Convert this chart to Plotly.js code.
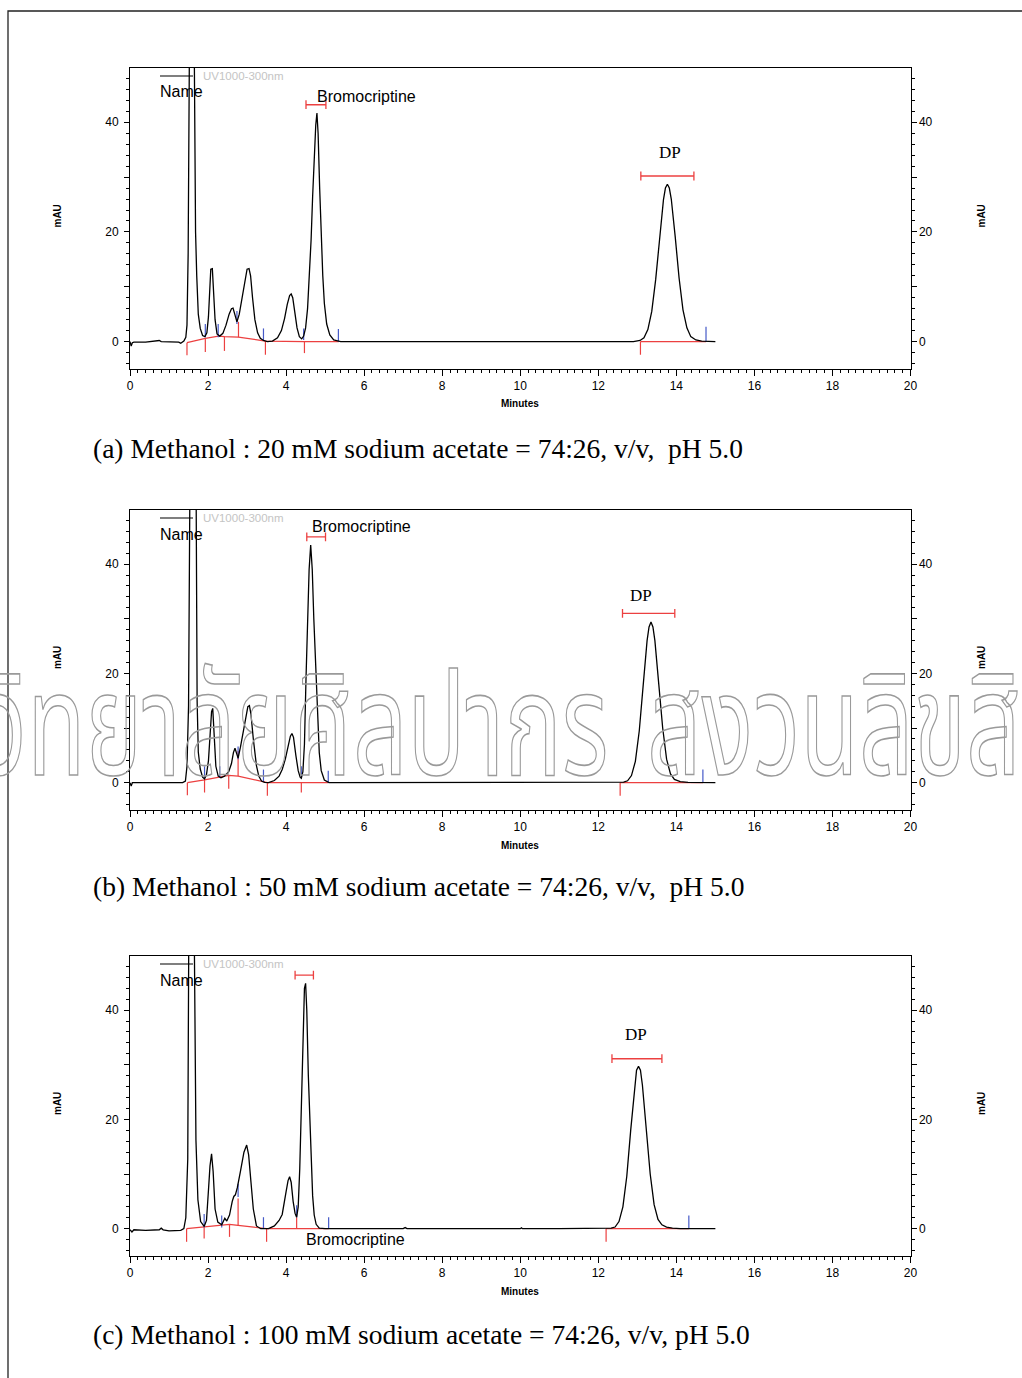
<!DOCTYPE html>
<html><head><meta charset="utf-8">
<script src="https://cdn.plot.ly/plotly-3.0.1.min.js"></script>
<style>html,body{margin:0;padding:0;background:#fff;} #chart{width:1022px;height:1378px;}</style>
</head><body><div id="chart"></div>
<script>
// ---------- Panel (a): 20 mM sodium acetate ----------
const timeA = [0, 0.03, 0.06, 0.1, 0.4, 0.7, 0.75, 0.8, 1.0, 1.25, 1.3, 1.38, 1.43, 1.46, 1.49, 1.52, 1.58, 1.64, 1.68, 1.71, 1.75, 1.8, 1.86, 1.92, 1.97, 2.01, 2.04, 2.07, 2.11, 2.14, 2.18, 2.23, 2.3, 2.38, 2.46, 2.54, 2.6, 2.64, 2.69, 2.74, 2.8, 2.87, 2.94, 3.0, 3.05, 3.09, 3.14, 3.2, 3.27, 3.34, 3.42, 3.52, 3.65, 3.78, 3.88, 3.96, 4.03, 4.09, 4.13, 4.17, 4.22, 4.28, 4.34, 4.4, 4.45, 4.5, 4.55, 4.6, 4.64, 4.68, 4.72, 4.76, 4.79, 4.82, 4.86, 4.9, 4.94, 4.98, 5.04, 5.12, 5.22, 5.4, 6.0, 7.0, 8.0, 9.0, 10.0, 11.0, 12.0, 12.9, 13.07, 13.17, 13.27, 13.37, 13.47, 13.57, 13.67, 13.72, 13.77, 13.82, 13.87, 13.97, 14.07, 14.17, 14.27, 14.37, 14.5, 14.65, 14.8, 15.0];
const absA = [0, -0.8, -0.2, -0.1, -0.1, 0.1, 0.2, 0, -0.1, -0.1, -0.3, 0.1, 0.8, 3, 16, 60, 120, 60, 20, 12, 5, 2.4, 1.1, 0.9, 1.6, 4.5, 8.7, 13.2, 13.3, 10, 4, 1.4, 1.0, 1.5, 3.0, 5.0, 6.0, 6.1, 4.8, 3.6, 5.0, 8.0, 11.3, 13.2, 13.3, 12, 8, 4, 1.6, 0.6, 0.2, 0, 0.1, 0.7, 2.0, 4.2, 6.8, 8.4, 8.7, 8.0, 5.5, 2.5, 0.9, 0.5, 1.0, 2.5, 6.0, 12.0, 18.5, 26.5, 34.0, 39.5, 41.7, 38.0, 28.0, 19.5, 12.0, 7.0, 3.2, 1.2, 0.3, 0, 0, 0, 0, 0, 0, 0, 0, 0, 0.2, 0.7, 2.2, 5.5, 11.3, 19.0, 25.9, 28.0, 28.7, 28.0, 26.0, 19.2, 11.6, 5.8, 2.5, 0.9, 0.3, 0.1, 0, 0];
const baseTimeA = [1.46, 1.93, 2.27, 2.42, 2.78, 3.47, 4.47, 5.35, null, 13.08, 14.76];
const baseAbsA = [-0.2, 0.6, 1.0, 0.9, 0.8, 0.1, 0.0, 0.0, null, 0, 0];
const redTickTimeA = [1.46, 1.93, 2.42, 2.78, 3.47, 4.47, 13.08];
const redTickLoA = [-2.5, -1.9, -1.7, 0.8, -2.4, -2.1, -2.4];
const redTickHiA = [-0.2, 0.6, 0.9, 3.6, 0.1, 0.0, 0.0];
const blueTickTimeA = [1.93, 2.26, 2.74, 3.42, 4.45, 5.34, 14.76];
const blueTickLoA = [0.8, 0.8, 3.2, 0.3, 0.3, 0, 0];
const blueTickHiA = [3.2, 3.2, 5.6, 2.4, 2.4, 2.3, 2.7];
const bracketStartA = [4.51, 13.09];
const bracketEndA = [5.02, 14.45];
const bracketAbsA = [43.2, 30.2];

// ---------- Panel (b): 50 mM sodium acetate ----------
const timeB = [0, 0.03, 0.06, 0.4, 0.8, 1.2, 1.35, 1.42, 1.46, 1.5, 1.54, 1.62, 1.69, 1.72, 1.75, 1.8, 1.86, 1.91, 1.96, 2.01, 2.05, 2.09, 2.12, 2.15, 2.2, 2.26, 2.33, 2.42, 2.53, 2.6, 2.65, 2.69, 2.73, 2.77, 2.83, 2.9, 2.97, 3.02, 3.06, 3.1, 3.16, 3.24, 3.3, 3.37, 3.45, 3.55, 3.7, 3.82, 3.9, 3.98, 4.06, 4.11, 4.15, 4.19, 4.25, 4.31, 4.36, 4.39, 4.43, 4.47, 4.51, 4.55, 4.59, 4.63, 4.67, 4.71, 4.76, 4.8, 4.85, 4.9, 4.98, 5.1, 6, 7, 8, 9, 10, 11, 12, 12.55, 12.65, 12.75, 12.85, 12.95, 13.05, 13.15, 13.25, 13.3, 13.35, 13.4, 13.45, 13.55, 13.65, 13.75, 13.85, 13.95, 14.1, 14.3, 14.6, 15.0];
const absB = [0, -0.6, 0, 0, 0, 0, 0, 0.3, 3, 14, 60, 120, 60, 15, 5.6, 2.5, 1.0, 0.7, 1.5, 4, 9, 13, 13.6, 10, 3, 1.2, 0.9, 1.2, 2.0, 3.5, 5.5, 6.3, 5.3, 4.5, 6.5, 9.5, 12.5, 13.9, 14.1, 12.5, 8, 3.1, 1.2, 0.3, 0.05, 0, 0.4, 1.2, 2.4, 4.3, 6.9, 8.5, 9.0, 8.3, 5.0, 2.2, 1.0, 0.8, 2.0, 7, 19, 30, 39, 43.5, 39, 30, 20, 12, 5.5, 2.2, 0.5, 0, 0, 0, 0, 0, 0, 0, 0, 0, 0.1, 0.35, 1.3, 3.9, 9.5, 17.8, 26.0, 28.5, 29.4, 28.5, 26.0, 18.0, 10.0, 4.3, 1.6, 0.6, 0.2, 0.05, 0, 0];
const baseTimeB = [1.47, 1.91, 2.53, 2.77, 3.52, 4.39, 5.08, null, 12.56, 14.68];
const baseAbsB = [0, 0.5, 1.35, 1.2, 0, 0, 0, null, 0, 0];
const redTickTimeB = [1.47, 1.91, 2.53, 2.77, 3.52, 4.39, 12.56];
const redTickLoB = [-2.3, -1.8, -1.1, 1.2, -2.4, -1.8, -2.4];
const redTickHiB = [0, 0.5, 1.35, 5.8, 0, 0, 0];
const blueTickTimeB = [1.91, 2.3, 2.77, 3.42, 4.39, 5.08, 14.68];
const blueTickLoB = [0.9, 0.9, 4.3, 0.2, 0.8, 0, 0];
const blueTickHiB = [3.0, 3.0, 6.6, 2.4, 3.0, 2.2, 2.4];
const bracketStartB = [4.53, 12.62];
const bracketEndB = [5.01, 13.96];
const bracketAbsB = [45.0, 31.0];

// ---------- Panel (c): 100 mM sodium acetate ----------
const timeC = [0, 0.05, 0.1, 0.4, 0.75, 0.8, 0.85, 1.0, 1.3, 1.38, 1.43, 1.48, 1.51, 1.57, 1.64, 1.69, 1.74, 1.81, 1.9, 1.96, 2.01, 2.05, 2.09, 2.13, 2.18, 2.25, 2.35, 2.43, 2.48, 2.55, 2.62, 2.66, 2.7, 2.75, 2.83, 2.92, 2.99, 3.04, 3.1, 3.16, 3.24, 3.35, 3.55, 3.7, 3.82, 3.9, 4.0, 4.05, 4.09, 4.13, 4.18, 4.23, 4.27, 4.31, 4.35, 4.39, 4.43, 4.47, 4.5, 4.53, 4.57, 4.6, 4.64, 4.68, 4.72, 4.77, 4.85, 5.0, 6.0, 7.0, 7.05, 7.1, 8.0, 9.0, 10.0, 10.03, 10.06, 11.0, 12.0, 12.33, 12.43, 12.53, 12.63, 12.73, 12.83, 12.93, 12.98, 13.03, 13.08, 13.13, 13.23, 13.33, 13.43, 13.53, 13.63, 13.75, 13.9, 14.1, 14.5, 15.0];
const absC = [-0.2, -0.6, -0.2, -0.3, -0.2, 0.1, -0.2, -0.4, -0.3, 0, 2, 12.8, 60, 120, 60, 16.2, 5.3, 1.3, 0.4, 1.5, 7, 11.5, 13.7, 10.5, 3.6, 1.2, 0.7, 1.9, 1.4, 2.5, 5.0, 5.9, 6.2, 7.5, 10.5, 14.0, 15.3, 13.5, 8.5, 3.6, 0.5, 0, 0, 0.5, 1.5, 2.6, 6.8, 8.8, 9.5, 8.5, 5.0, 2.8, 2.1, 4.0, 11, 24, 37, 44, 44.9, 40, 28, 21, 12, 6, 2.5, 0.8, 0.1, 0, 0, 0, 0.2, 0, 0, 0, 0, 0.15, 0, 0, 0, 0.1, 0.3, 1.3, 4.0, 9.6, 18.0, 26.3, 29.0, 29.7, 29.0, 26.3, 18.2, 10.0, 4.4, 1.7, 0.7, 0.3, 0.1, 0, 0, 0];
const baseTimeC = [1.45, 1.9, 2.55, 2.77, 3.5, 4.27, 5.09, null, 12.2, 14.32];
const baseAbsC = [0, 0.3, 0.8, 0.6, 0, 0, 0, null, 0, 0];
const redTickTimeC = [1.45, 1.9, 2.55, 2.77, 3.5, 4.27, 12.2];
const redTickLoC = [-2.4, -1.8, -1.5, 0.6, -2.4, 0, -2.4];
const redTickHiC = [0, 0.3, 0.8, 5.5, 0, 2.1, 0];
const blueTickTimeC = [1.9, 2.35, 2.77, 3.42, 4.27, 5.09, 14.32];
const blueTickLoC = [0.2, 0.2, 5.8, 0, 2.1, 0, 0];
const blueTickHiC = [2.7, 2.4, 8.2, 2.1, 4.3, 2.1, 2.4];
const bracketStartC = [4.23, 12.35];
const bracketEndC = [4.70, 13.63];
const bracketAbsC = [46.4, 31.1];

// ---------- Axis tick labels and texts ----------
const xTickVals = [0, 2, 4, 6, 8, 10, 12, 14, 16, 18, 20];
const yTickVals = [0, 10, 20, 30, 40];
const yTickText = ['0', '', '20', '', '40'];
const captions = [
  '(a) Methanol : 20 mM sodium acetate = 74:26, v/v,\u00a0 pH 5.0',
  '(b) Methanol : 50 mM sodium acetate = 74:26, v/v,\u00a0 pH 5.0',
  '(c) Methanol : 100 mM sodium acetate = 74:26, v/v, pH 5.0'
];
const peakLabels = ['Bromocriptine', 'DP'];
const detectorLabel = 'UV1000-300nm';
const watermarkWords = ['มหาวิทยาลัยศิลปากร', 'สงวนลิขสิทธิ์'];

// ---------- Layout geometry (pixels) ----------
const W = 1022, H = 1378;
const px = x => x / W;
const py = y => 1 - y / H;
const plotLeft = 130, plotRight = 910.5;
const panelTop = [68, 510, 956];
const panelBottom = [369, 810, 1256];
const captionY = [448, 886, 1334];
const yRange = [-5, 49.9];

const panels = [
  {t: timeA, v: absA, bt: baseTimeA, bv: baseAbsA, rt: redTickTimeA, rlo: redTickLoA, rhi: redTickHiA,
   ut: blueTickTimeA, ulo: blueTickLoA, uhi: blueTickHiA, ks: bracketStartA, ke: bracketEndA, kv: bracketAbsA},
  {t: timeB, v: absB, bt: baseTimeB, bv: baseAbsB, rt: redTickTimeB, rlo: redTickLoB, rhi: redTickHiB,
   ut: blueTickTimeB, ulo: blueTickLoB, uhi: blueTickHiB, ks: bracketStartB, ke: bracketEndB, kv: bracketAbsB},
  {t: timeC, v: absC, bt: baseTimeC, bv: baseAbsC, rt: redTickTimeC, rlo: redTickLoC, rhi: redTickHiC,
   ut: blueTickTimeC, ulo: blueTickLoC, uhi: blueTickHiC, ks: bracketStartC, ke: bracketEndC, kv: bracketAbsC}
];

function vsegs(ts, lo, hi) {
  const x = [], y = [];
  ts.forEach((t, i) => { x.push(t, t, null); y.push(lo[i], hi[i], null); });
  return {x, y};
}
function brackets(s, e, v) {
  const x = [], y = [], cap = 0.8;
  s.forEach((t0, i) => {
    const t1 = e[i], yy = v[i];
    x.push(t0, t1, null, t0, t0, null, t1, t1, null);
    y.push(yy, yy, null, yy - cap, yy + cap, null, yy - cap, yy + cap, null);
  });
  return {x, y};
}

const RED = 'rgb(236,64,64)', BLUE = 'rgb(70,90,200)';
const sans = 'Liberation Sans, Arial, sans-serif';
const serif = 'Liberation Serif, Times New Roman, serif';
const traces = [];
const layout = {
  width: W, height: H, margin: {l: 0, r: 0, t: 0, b: 0},
  paper_bgcolor: '#fff', plot_bgcolor: '#fff', showlegend: false,
  font: {family: sans, size: 12, color: '#000'},
  annotations: [], shapes: []
};
const A = layout.annotations;
function note(o) {
  A.push(Object.assign({showarrow: false, xanchor: 'center', yanchor: 'middle'}, o));
}

panels.forEach((p, i) => {
  const s = i === 0 ? '' : String(i + 1);
  const xa = 'x' + s, ya = 'y' + s;
  const rIdx = i + 4, ra = 'y' + rIdx;
  const common = {xaxis: xa, yaxis: ya, mode: 'lines', hoverinfo: 'skip'};
  traces.push(Object.assign({x: p.bt, y: p.bv, line: {color: RED, width: 1.2}}, common));
  const rs = vsegs(p.rt, p.rlo, p.rhi);
  traces.push(Object.assign({x: rs.x, y: rs.y, line: {color: RED, width: 1.2}}, common));
  const us = vsegs(p.ut, p.ulo, p.uhi);
  traces.push(Object.assign({x: us.x, y: us.y, line: {color: BLUE, width: 1.2}}, common));
  const bk = brackets(p.ks, p.ke, p.kv);
  traces.push(Object.assign({x: bk.x, y: bk.y, line: {color: RED, width: 1.3}}, common));
  traces.push(Object.assign({x: p.t, y: p.v, line: {color: '#000', width: 1.3}}, common));
  traces.push({x: [], y: [], xaxis: xa, yaxis: ra, mode: 'lines', hoverinfo: 'skip'});

  const yd = [py(panelBottom[i]), py(panelTop[i])];
  layout['xaxis' + s] = {
    domain: [px(plotLeft), px(plotRight)], anchor: ya, range: [0, 20], fixedrange: true,
    showline: true, linecolor: '#000', linewidth: 1, mirror: true, zeroline: false, showgrid: false,
    ticks: 'outside', ticklen: 6, tickcolor: '#000', tickwidth: 1,
    tickmode: 'array', tickvals: xTickVals, tickfont: {family: sans, size: 12},
    minor: {tickmode: 'linear', tick0: 0, dtick: 0.2, ticks: 'outside', ticklen: 3, tickcolor: '#000', showgrid: false}
  };
  const yCommon = {
    domain: yd, range: yRange, fixedrange: true, showline: true, linecolor: '#000', linewidth: 1,
    zeroline: false, showgrid: false, ticks: 'outside', ticklen: 5, tickcolor: '#000',
    tickmode: 'array', tickvals: yTickVals, ticktext: yTickText, tickfont: {family: sans, size: 12},
    minor: {tickmode: 'linear', tick0: 0, dtick: 2, ticks: 'outside', ticklen: 3, tickcolor: '#000', showgrid: false}
  };
  layout['yaxis' + s] = Object.assign({anchor: xa, side: 'left', ticklabelstandoff: 3}, yCommon);
  layout['yaxis' + rIdx] = Object.assign({anchor: xa, side: 'right', overlaying: ya}, yCommon);

  const midY = (panelTop[i] + panelBottom[i]) / 2;
  note({xref: 'paper', yref: 'paper', x: px(57), y: py(midY - 2), text: '<b>mAU</b>', textangle: -90, font: {family: sans, size: 10}});
  note({xref: 'paper', yref: 'paper', x: px(981), y: py(midY - 2), text: '<b>mAU</b>', textangle: -90, font: {family: sans, size: 10}});
  note({xref: 'paper', yref: 'paper', x: px(520), y: py(panelBottom[i] + 35), text: '<b>Minutes</b>', font: {family: sans, size: 10}});
  note({xref: 'paper', yref: 'paper', x: px(91), y: py(captionY[i]), xanchor: 'left', text: captions[i], font: {family: serif, size: 27.5}});
  const top = panelTop[i];
  note({xref: 'paper', yref: 'paper', x: px(158), y: py(top + 24), xanchor: 'left', text: 'Name', font: {family: sans, size: 16}});
  note({xref: 'paper', yref: 'paper', x: px(201), y: py(top + 8), xanchor: 'left', text: detectorLabel, font: {family: sans, size: 11.5, color: '#c4c4c4'}});
  layout.shapes.push({type: 'line', xref: 'paper', yref: 'paper', x0: px(160), x1: px(193), y0: py(top + 8), y1: py(top + 8),
          line: {color: '#000', width: 1.2}});
});

// Peak labels (data coordinates)
note({xref: 'x', yref: 'y', x: 4.75, y: 44.7, xanchor: 'left', text: peakLabels[0], font: {family: sans, size: 16}});
note({xref: 'x', yref: 'y', x: 13.84, y: 34.5, text: peakLabels[1], font: {family: serif, size: 17}});
note({xref: 'x2', yref: 'y2', x: 4.62, y: 46.9, xanchor: 'left', text: peakLabels[0], font: {family: sans, size: 16}});
note({xref: 'x2', yref: 'y2', x: 13.1, y: 34.3, text: peakLabels[1], font: {family: serif, size: 17}});
note({xref: 'x3', yref: 'y3', x: 4.46, y: -2.0, xanchor: 'left', text: peakLabels[0], font: {family: sans, size: 16}});
note({xref: 'x3', yref: 'y3', x: 12.97, y: 35.6, text: peakLabels[1], font: {family: serif, size: 17}});

// Watermark (two words, outlined)
const wmFont = {family: 'Noto Sans Thai, Noto Sans, DejaVu Sans, sans-serif', size: 144, color: '#aaa'};
note({xref: 'paper', yref: 'paper', x: px(611), y: py(731), xanchor: 'right', text: watermarkWords[0], font: wmFont});
note({xref: 'paper', yref: 'paper', x: px(645), y: py(731), xanchor: 'left', text: watermarkWords[1], font: wmFont});

// Outer frame
layout.shapes.push({type: 'rect', xref: 'paper', yref: 'paper', x0: px(8), x1: px(1040), y0: py(11), y1: py(1400),
  line: {color: '#222', width: 1.3}});

Plotly.newPlot('chart', traces, layout, {staticPlot: true}).then(gd => {
  const sx = 0.665;
  gd.querySelectorAll('.annotation-text').forEach(el => {
    const k = watermarkWords.indexOf(el.textContent);
    if (k < 0) return;
    el.style.fill = 'none';
    el.style.stroke = '#9a9a9a';
    el.style.strokeWidth = '1.6px';
    const bb = el.getBBox();
    const ax = k === 0 ? bb.x + bb.width : bb.x;
    const prev = el.getAttribute('transform') || '';
    el.setAttribute('transform', prev + ' translate(' + ax + ',0) scale(' + sx + ',1) translate(' + (-ax) + ',0)');
  });
});
</script>
</body></html>
